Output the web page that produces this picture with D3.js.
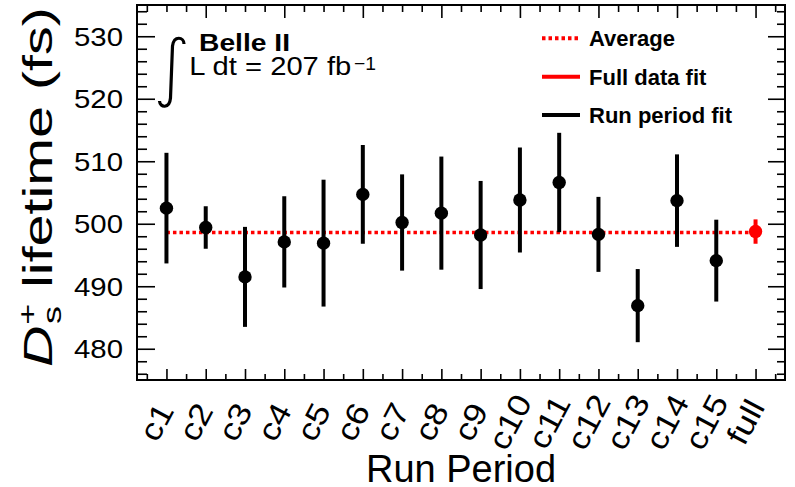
<!DOCTYPE html>
<html>
<head>
<meta charset="utf-8">
<script src="https://cdn.jsdelivr.net/npm/d3@7"></script>
<style>
  body { margin: 0; background: #fff; }
  svg { display: block; font-family: "Liberation Sans", Arial, sans-serif; }
</style>
</head>
<body>
<div id="chart"></div>
<script>
// run periods and fitted lifetimes (fs)
const periods = ["c1", "c2", "c3", "c4", "c5", "c6", "c7", "c8", "c9", "c10", "c11", "c12", "c13", "c14", "c15"]
const lifetimes = [502.5, 499.4, 491.5, 497.1, 496.9, 504.7, 500.2, 501.7, 498.2, 503.8, 506.6, 498.3, 486.9, 503.7, 494.1]
const errors = [8.85, 3.4, 8.0, 7.3, 10.15, 7.9, 7.7, 9.05, 8.65, 8.4, 7.95, 6.0, 5.85, 7.4, 6.55]
const fullLabel = "full"
const fullLifetime = 498.75
const fullError = 1.95
const average = 498.6
const yTicks = [480, 490, 500, 510, 520, 530]

const W = 795, H = 487
const margin = { left: 137, right: 10, top: 5, bottom: 107 }
const plotW = W - margin.left - margin.right
const plotH = H - margin.top - margin.bottom

const labels = [...periods, fullLabel]

const svg = d3.select("#chart").append("svg")
    .attr("width", W)
    .attr("height", H)

const x = d3.scaleLinear().domain([0.25, labels.length + 0.75]).range([margin.left, margin.left + plotW])
const y = d3.scaleLinear().domain([475, 535]).range([margin.top + plotH, margin.top])

const x0 = margin.left, x1 = margin.left + plotW
const y0 = margin.top + plotH, y1 = margin.top

const halfSteps = d3.range(0.5, labels.length + 0.51, 0.5)
const minorX = halfSteps.filter(d => d % 1 !== 0)
const minorY = d3.range(476, 535, 2).filter(d => d % 10 !== 0)

function styleTicks(g, w) {
    g.select(".domain").remove()
    g.selectAll(".tick line").attr("stroke", "#000").attr("stroke-width", w)
}

/* BOTTOM AXIS */
svg.append("g")
    .attr("transform", `translate(0, ${y0})`)
    .call(d3.axisBottom(x).tickValues(minorX).tickSize(-6).tickFormat(""))
    .call(g => styleTicks(g, 1.6))

const bottom = svg.append("g")
    .attr("transform", `translate(0, ${y0})`)
    .call(d3.axisBottom(x).tickValues(d3.range(1, labels.length + 1)).tickSize(-11)
        .tickFormat((d, i) => labels[i]))
    .call(g => styleTicks(g, 1.6))

// rotated labels, centred under the tick and a bit stretched like the original
bottom.selectAll(".tick text")
    .attr("x", 0)
    .attr("y", 0)
    .attr("dy", null)
    .attr("text-anchor", "middle")
    .attr("transform", "translate(-1, 47) rotate(-62) scale(1.15, 1)")
    .attr("font-family", "Liberation Sans, Arial, sans-serif")
    .attr("font-size", 31)
    .attr("fill", "#000")

/* TOP AXIS */
svg.append("g")
    .attr("transform", `translate(0, ${y1})`)
    .call(d3.axisTop(x).tickValues(halfSteps.filter(d => d % 2 !== 0)).tickSize(-7).tickFormat(""))
    .call(g => styleTicks(g, 1.6))
svg.append("g")
    .attr("transform", `translate(0, ${y1})`)
    .call(d3.axisTop(x).tickValues(d3.range(2, labels.length + 1, 2)).tickSize(-13).tickFormat(""))
    .call(g => styleTicks(g, 1.6))

/* LEFT AXIS */
svg.append("g")
    .attr("transform", `translate(${x0}, 0)`)
    .call(d3.axisLeft(y).tickValues(minorY).tickSize(-10).tickFormat(""))
    .call(g => styleTicks(g, 1.6))

const left = svg.append("g")
    .attr("transform", `translate(${x0}, 0)`)
    .call(d3.axisLeft(y).tickValues(yTicks).tickSize(-18).tickPadding(14))
    .call(g => styleTicks(g, 1.6))

left.selectAll(".tick text")
    .attr("dy", null)
    .attr("y", 9)
    .attr("font-family", "Liberation Sans, Arial, sans-serif")
    .attr("font-size", 25.5)
    .attr("textLength", 49)
    .attr("lengthAdjust", "spacingAndGlyphs")
    .attr("fill", "#000")

/* RIGHT AXIS */
svg.append("g")
    .attr("transform", `translate(${x1}, 0)`)
    .call(d3.axisRight(y).tickValues(minorY).tickSize(-8).tickFormat(""))
    .call(g => styleTicks(g, 1.6))
svg.append("g")
    .attr("transform", `translate(${x1}, 0)`)
    .call(d3.axisRight(y).tickValues(yTicks).tickSize(-17).tickFormat(""))
    .call(g => styleTicks(g, 1.6))

/* FRAME */
svg.append("rect")
    .attr("x", x0)
    .attr("y", y1)
    .attr("width", plotW)
    .attr("height", plotH)
    .attr("fill", "none")
    .attr("stroke", "#000")
    .attr("stroke-width", 2)

/* AVERAGE LINE */
svg.append("line")
    .attr("x1", x(1))
    .attr("x2", x(labels.length))
    .attr("y1", y(average))
    .attr("y2", y(average))
    .attr("stroke", "#ff0000")
    .attr("stroke-width", 3.5)
    .attr("stroke-dasharray", "3.5 3")

/* RUN PERIOD POINTS */
const points = periods.map((p, i) => ({ pos: i + 1, v: lifetimes[i], e: errors[i] }))

svg.selectAll(".err")
    .data(points)
    .enter()
    .append("line")
    .attr("class", "err")
    .attr("x1", d => x(d.pos))
    .attr("x2", d => x(d.pos))
    .attr("y1", d => y(d.v + d.e))
    .attr("y2", d => y(d.v - d.e))
    .attr("stroke", "#000")
    .attr("stroke-width", 4)

svg.selectAll(".pt")
    .data(points)
    .enter()
    .append("circle")
    .attr("class", "pt")
    .attr("cx", d => x(d.pos))
    .attr("cy", d => y(d.v))
    .attr("r", 6.7)
    .attr("fill", "#000")

/* FULL DATA POINT */
const fullPos = labels.length
svg.append("line")
    .attr("x1", x(fullPos))
    .attr("x2", x(fullPos))
    .attr("y1", y(fullLifetime + fullError))
    .attr("y2", y(fullLifetime - fullError))
    .attr("stroke", "#ff0000")
    .attr("stroke-width", 4)
svg.append("circle")
    .attr("cx", x(fullPos))
    .attr("cy", y(fullLifetime))
    .attr("r", 6.7)
    .attr("fill", "#ff0000")

/* LEGEND */
const legend = [
    { label: "Average", color: "#ff0000", dash: "3.5 3", y: 38.3 },
    { label: "Full data fit", color: "#ff0000", dash: null, y: 76.7 },
    { label: "Run period fit", color: "#000", dash: null, y: 115 },
]
const lg = svg.append("g")
lg.selectAll("line")
    .data(legend)
    .enter()
    .append("line")
    .attr("x1", 542)
    .attr("x2", 580)
    .attr("y1", d => d.y)
    .attr("y2", d => d.y)
    .attr("stroke", d => d.color)
    .attr("stroke-width", 4)
    .attr("stroke-dasharray", d => d.dash)
lg.selectAll("text")
    .data(legend)
    .enter()
    .append("text")
    .attr("x", 589)
    .attr("y", d => d.y + 7.8)
    .attr("font-size", 22)
    .attr("font-weight", "bold")
    .text(d => d.label)

/* BELLE II LABEL */
svg.append("path")
    .attr("d", "M184,44 C184,37 174,35 172.5,46 L170.5,98 C169.5,109 160,108 159.5,101")
    .attr("fill", "none")
    .attr("stroke", "#000")
    .attr("stroke-width", 3.2)
svg.append("text")
    .attr("x", 199)
    .attr("y", 50.5)
    .attr("font-size", 23)
    .attr("font-weight", "bold")
    .attr("textLength", 91)
    .attr("lengthAdjust", "spacingAndGlyphs")
    .text("Belle II")
svg.append("text")
    .attr("x", 189.3)
    .attr("y", 75)
    .attr("font-size", 26)
    .attr("textLength", 162)
    .attr("lengthAdjust", "spacingAndGlyphs")
    .text("L dt = 207 fb")
svg.append("text")
    .attr("x", 354)
    .attr("y", 69.5)
    .attr("font-size", 19)
    .attr("textLength", 22)
    .attr("lengthAdjust", "spacingAndGlyphs")
    .text("\u22121")

/* AXIS TITLES */
svg.append("text")
    .attr("x", (x0 + x1) / 2)
    .attr("y", 481.5)
    .attr("text-anchor", "middle")
    .attr("font-size", 38)
    .text("Run Period")

// y title: stretched along its direction so it spans from y=367 up to y=7
const ytitle = svg.append("g")
const yt = ytitle.append("text")
    .attr("font-size", 40)
yt.append("tspan").attr("font-style", "italic").text("D")
yt.append("tspan").attr("font-size", 25).attr("dx", 1).attr("dy", 9).text("s")
yt.append("tspan").attr("font-size", 25).attr("dx", -13).attr("dy", -25).text("+")
yt.append("tspan").attr("dy", 16).text(" lifetime (fs)")
const tw = yt.node().getBBox().width
ytitle.attr("transform", `translate(52, 367) rotate(-90) scale(${360 / tw}, 1)`)
</script>
</body>
</html>
